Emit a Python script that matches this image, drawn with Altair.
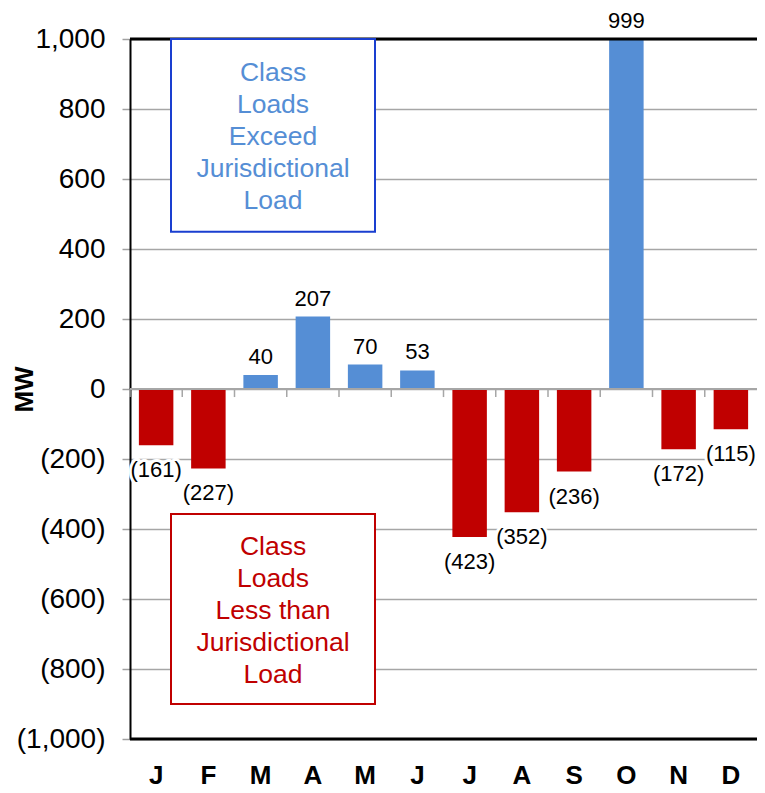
import altair as alt
import pandas as pd

# ---- data ----
months = ["Jan", "Feb", "Mar", "Apr", "May", "Jun", "Jul", "Aug", "Sep", "Oct", "Nov", "Dec"]
values = [-161, -227, 40, 207, 70, 53, -423, -352, -236, 999, -172, -115]
y_ticks = [-1000, -800, -600, -400, -200, 0, 200, 400, 600, 800, 1000]
box_pos_lines = ["Class", "Loads", "Exceed", "Jurisdictional", "Load"]
box_neg_lines = ["Class", "Loads", "Less than", "Jurisdictional", "Load"]

df = pd.DataFrame({"month": months, "mw": values})
one = pd.DataFrame({"k": [0]})

FONT = "Liberation Sans"
W, H = 627, 700
STEP = W / 12
BLUE = "#558ED5"
RED = "#C00000"
BOX_BLUE = "#1A3FD0"
GRID = "#A6A6A6"

y_scale = alt.Scale(domain=[-1000, 1000], nice=False)

x_enc = alt.X(
    "month:N", sort=months,
    scale=alt.Scale(paddingInner=0.34, paddingOuter=0.17),
    axis=alt.Axis(title=None, labelExpr="substring(datum.label, 0, 1)", labelAngle=0,
                  labelFont=FONT, labelFontSize=26, labelFontWeight="bold",
                  labelColor="black", labelPadding=23, domain=False, ticks=False, grid=False),
)

y_axis = alt.Axis(
    title="MW", values=y_ticks,
    labelExpr="datum.value < 0 ? '(' + format(-datum.value, ',') + ')' : format(datum.value, ',') + '\u00a0'",
    grid=True, gridColor=GRID, gridWidth=1.5,
    domainColor="black", domainWidth=2,
    tickColor="#A0A0A0", tickSize=8, tickWidth=1.5,
    labelPadding=17, labelFont=FONT, labelFontSize=28, labelColor="black",
    titleFont=FONT, titleFontSize=26, titleFontWeight="bold", titleColor="black",
    titleX=-106, titleY=350, titleAngle=270, titleAlign="center", titleBaseline="middle",
)

bars = alt.Chart(df).mark_bar().encode(
    x=x_enc,
    y=alt.Y("mw:Q", scale=y_scale, axis=y_axis),
    color=alt.condition("datum.mw < 0", alt.value(RED), alt.value(BLUE)),
)

zero_rule = alt.Chart(one).mark_rule(color=GRID, strokeWidth=2).encode(
    y=alt.datum(0), x=alt.value(0), x2=alt.value(W)
)

cat_ticks = alt.Chart(df).mark_rule(color=GRID, strokeWidth=1.5, xOffset=-0.17 * STEP).encode(
    x=alt.X("month:N", sort=months, bandPosition=0),
    y=alt.datum(0), y2=alt.datum(-23),
)

top_rule = alt.Chart(one).mark_rule(color="black", strokeWidth=3).encode(
    y=alt.datum(1000), x=alt.value(0), x2=alt.value(W)
)
bottom_rule = alt.Chart(one).mark_rule(color="black", strokeWidth=3).encode(
    y=alt.datum(-1000), x=alt.value(0), x2=alt.value(W)
)


def labels(filt, expr, dy, halo=True):
    base = alt.Chart(df).transform_filter(filt).transform_calculate(lbl=expr).encode(
        x=alt.X("month:N", sort=months),
        y=alt.Y("mw:Q"),
        text="lbl:N",
    )
    out = []
    if halo:
        out.append(base.mark_text(font=FONT, fontSize=22, dy=dy, baseline="middle",
                                  fill="white", stroke="white", strokeWidth=6, strokeJoin="round"))
    out.append(base.mark_text(font=FONT, fontSize=22, dy=dy, baseline="middle", color="black"))
    return out


pos_labels = labels("datum.mw >= 0", "format(datum.mw, ',')", -18, halo=False)
neg_labels = labels("datum.mw < 0", "'(' + format(-datum.mw, ',') + ')'", 25)


def box(y_top, y_bot, border, lines, text_color, text_y):
    layers = []
    for off, op in [(6, 0.10), (4, 0.15), (2, 0.2)]:
        layers.append(
            alt.Chart(one).mark_rect(color="#606060", opacity=op, xOffset=off, yOffset=off).encode(
                x=alt.value(41), x2=alt.value(245), y=alt.datum(y_top), y2=alt.datum(y_bot)
            )
        )
    layers.append(
        alt.Chart(one).mark_rect(fill="white", stroke=border, strokeWidth=2).encode(
            x=alt.value(41), x2=alt.value(245), y=alt.datum(y_top), y2=alt.datum(y_bot)
        )
    )
    layers.append(
        alt.Chart(one).mark_text(text=lines, font=FONT, fontSize=26.5, color=text_color,
                                 lineHeight=32, align="center", baseline="middle").encode(
            x=alt.value(143), y=alt.value(text_y)
        )
    )
    return layers


blue_box = box(1000, 449, BOX_BLUE, box_pos_lines, BLUE, 34)
red_box = box(-357, -900, RED, box_neg_lines, RED, 508)

chart = alt.layer(
    bars, zero_rule, cat_ticks, top_rule, bottom_rule,
    *pos_labels, *neg_labels, *blue_box, *red_box,
).properties(
    width=W, height=H,
    autosize=alt.AutoSizeParams(type="none"),
    padding={"left": 122, "top": 31, "right": 0, "bottom": 52},
).configure_view(strokeWidth=0)

chart.save("out.html", embed_options={"renderer": "svg", "actions": False})
